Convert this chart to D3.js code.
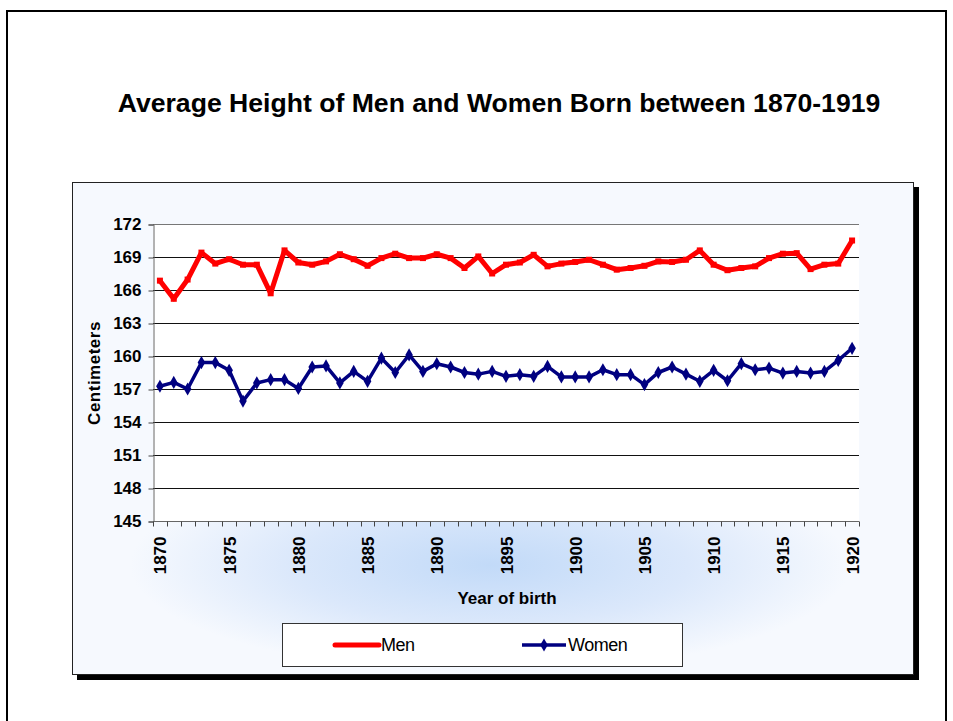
<!DOCTYPE html>
<html>
<head>
<meta charset="utf-8">
<script src="https://cdn.jsdelivr.net/npm/d3@7"></script>
<style>
  body { margin: 0; background: #fff; }
  svg { display: block; font-family: "Liberation Sans", Arial, sans-serif; }
</style>
</head>
<body>
<svg id="drawing_region"></svg>
<script>
var years = [1870, 1871, 1872, 1873, 1874, 1875, 1876, 1877, 1878, 1879,
             1880, 1881, 1882, 1883, 1884, 1885, 1886, 1887, 1888, 1889,
             1890, 1891, 1892, 1893, 1894, 1895, 1896, 1897, 1898, 1899,
             1900, 1901, 1902, 1903, 1904, 1905, 1906, 1907, 1908, 1909,
             1910, 1911, 1912, 1913, 1914, 1915, 1916, 1917, 1918, 1919, 1920];
var men = [166.85, 165.2, 166.95, 169.4, 168.4, 168.8, 168.3, 168.3, 165.7, 169.6,
           168.5, 168.3, 168.6, 169.25, 168.8, 168.2, 168.9, 169.3, 168.9, 168.9,
           169.25, 168.9, 168.0, 169.05, 167.5, 168.3, 168.5, 169.2, 168.15, 168.4,
           168.55, 168.75, 168.3, 167.85, 168.0, 168.2, 168.6, 168.55, 168.75, 169.6,
           168.3, 167.8, 168.0, 168.15, 168.9, 169.3, 169.35, 167.9, 168.3, 168.4, 170.5];
var women = [157.25, 157.6, 157.0, 159.4, 159.4, 158.7, 155.9, 157.55, 157.85, 157.85,
             157.05, 159.0, 159.1, 157.55, 158.6, 157.7, 159.8, 158.5, 160.1, 158.6,
             159.3, 159.0, 158.5, 158.35, 158.6, 158.15, 158.3, 158.15, 159.05, 158.1,
             158.1, 158.1, 158.75, 158.3, 158.3, 157.4, 158.5, 159.0, 158.35, 157.7,
             158.7, 157.75, 159.3, 158.75, 158.9, 158.45, 158.6, 158.45, 158.6, 159.6, 160.7];
var yTicks = [145, 148, 151, 154, 157, 160, 163, 166, 169, 172];
var xLabels = [1870, 1875, 1880, 1885, 1890, 1895, 1900, 1905, 1910, 1915, 1920];
var seriesNames = ['Men', 'Women'];

var width = 953, height = 721;
var plot = { left: 153, right: 859, top: 224, bottom: 521 };

var svg = d3.select('#drawing_region')
    .attr('width', width)
    .attr('height', height);

// page border
svg.append('path')
    .attr('d', `M7,${height + 5}V11H946V${height + 5}`)
    .attr('fill', 'none')
    .attr('stroke', '#000')
    .attr('stroke-width', 2);

svg.append('text')
    .attr('x', 499)
    .attr('y', 112)
    .attr('text-anchor', 'middle')
    .style('font-size', '26.6px')
    .style('font-weight', 'bold')
    .text('Average Height of Men and Women Born between 1870-1919');

// chart area with shadow and blue glow
var defs = svg.append('defs');
var grad = defs.append('radialGradient')
    .attr('id', 'glow')
    .attr('gradientUnits', 'userSpaceOnUse')
    .attr('cx', 490).attr('cy', 565).attr('r', 360)
    .attr('gradientTransform', 'translate(490,565) scale(1,0.3) translate(-490,-565)');
grad.append('stop').attr('offset', '0%').attr('stop-color', '#c2daf8');
grad.append('stop').attr('offset', '55%').attr('stop-color', '#dbe8fb');
grad.append('stop').attr('offset', '100%').attr('stop-color', '#f6f9fe');

svg.append('rect')
    .attr('x', 77).attr('y', 187)
    .attr('width', 842).attr('height', 493)
    .attr('fill', '#000');
svg.append('rect')
    .attr('x', 72.5).attr('y', 182.5)
    .attr('width', 841).attr('height', 492)
    .attr('fill', '#f6f9fe');
svg.append('rect')
    .attr('x', 72.5).attr('y', 182.5)
    .attr('width', 841).attr('height', 492)
    .attr('fill', 'url(#glow)')
    .attr('stroke', '#222')
    .attr('stroke-width', 1);

var x = d3.scaleBand()
    .domain(years)
    .range([plot.left, plot.right]);
var y = d3.scaleLinear()
    .domain([145, 172])
    .range([plot.bottom, plot.top]);

svg.append('rect')
    .attr('x', plot.left).attr('y', plot.top)
    .attr('width', plot.right - plot.left)
    .attr('height', plot.bottom - plot.top)
    .attr('fill', '#fff');

// gridlines
svg.append('g')
    .selectAll('line')
    .data(yTicks)
    .join('line')
    .attr('x1', plot.left).attr('x2', plot.right)
    .attr('y1', d => Math.round(y(d)) + 0.5)
    .attr('y2', d => Math.round(y(d)) + 0.5)
    .attr('stroke', d => d === 172 ? '#777' : '#111')
    .attr('stroke-width', 1);

// y axis
var yAxis = svg.append('g')
    .attr('transform', `translate(${plot.left + 0.5},0.5)`)
    .call(d3.axisLeft(y).tickValues(yTicks).tickSize(5).tickPadding(7));
yAxis.select('.domain').attr('stroke', '#666');
yAxis.selectAll('.tick line').attr('stroke', '#444');
yAxis.selectAll('text')
    .style('font-size', '17px')
    .style('font-weight', 'bold')
    .style('font-family', '"Liberation Sans", Arial, sans-serif')
    .attr('fill', '#000');

// x axis: ticks at category boundaries, labels every 5 years
var xg = svg.append('g')
    .attr('transform', `translate(0,${plot.bottom + 0.5})`);
xg.append('line')
    .attr('x1', plot.left).attr('x2', plot.right)
    .attr('stroke', '#666');
xg.selectAll('.tk')
    .data(years.concat([null]))
    .join('line')
    .attr('class', 'tk')
    .attr('x1', (d, i) => Math.round(plot.left + i * x.step()) + 0.5)
    .attr('x2', (d, i) => Math.round(plot.left + i * x.step()) + 0.5)
    .attr('y1', 0).attr('y2', 5)
    .attr('stroke', '#444');
xg.selectAll('.lbl')
    .data(xLabels)
    .join('text')
    .attr('class', 'lbl')
    .attr('transform', d => `translate(${x(d) + x.bandwidth() / 2 + 6.5},15) rotate(-90)`)
    .attr('text-anchor', 'end')
    .style('font-size', '17px')
    .style('font-weight', 'bold')
    .text(d => d);

svg.append('text')
    .attr('x', 507)
    .attr('y', 604)
    .attr('text-anchor', 'middle')
    .style('font-size', '17px')
    .style('font-weight', 'bold')
    .text('Year of birth');

svg.append('text')
    .attr('transform', 'translate(100,373) rotate(-90)')
    .attr('text-anchor', 'middle')
    .style('font-size', '17px')
    .style('font-weight', 'bold')
    .style('letter-spacing', '0.5px')
    .text('Centimeters');

// series
var line = d3.line()
    .x((d, i) => x(years[i]) + x.bandwidth() / 2)
    .y(d => y(d));
var diamond = d3.symbol().type(d3.symbolDiamond).size(50);

svg.append('path')
    .datum(men)
    .attr('d', line)
    .attr('fill', 'none')
    .attr('stroke', '#ff0000')
    .attr('stroke-width', 5)
    .attr('stroke-linejoin', 'round');
svg.append('g')
    .selectAll('rect')
    .data(men)
    .join('rect')
    .attr('x', (d, i) => x(years[i]) + x.bandwidth() / 2 - 3)
    .attr('y', d => y(d) - 3)
    .attr('width', 6).attr('height', 6)
    .attr('fill', '#ff0000');

svg.append('path')
    .datum(women)
    .attr('d', line)
    .attr('fill', 'none')
    .attr('stroke', '#000080')
    .attr('stroke-width', 3.5)
    .attr('stroke-linejoin', 'round');
svg.append('g')
    .selectAll('path')
    .data(women)
    .join('path')
    .attr('transform', (d, i) => `translate(${x(years[i]) + x.bandwidth() / 2},${y(d)})`)
    .attr('d', diamond)
    .attr('fill', '#000080');

// legend
var legend = svg.append('g');
legend.append('rect')
    .attr('x', 282.5).attr('y', 623.5)
    .attr('width', 400).attr('height', 43)
    .attr('fill', '#fff')
    .attr('stroke', '#333');
var legendX = [335, 522];
var legendColor = ['#ff0000', '#000080'];
legend.selectAll('.ll')
    .data(seriesNames)
    .join('line')
    .attr('class', 'll')
    .attr('x1', (d, i) => legendX[i]).attr('x2', (d, i) => legendX[i] + 44)
    .attr('y1', 645).attr('y2', 645)
    .attr('stroke', (d, i) => legendColor[i])
    .attr('stroke-width', (d, i) => i === 0 ? 5 : 3.5)
    .attr('stroke-linecap', (d, i) => i === 0 ? 'round' : 'butt');
legend.append('path')
    .attr('transform', `translate(${legendX[1] + 22},645)`)
    .attr('d', diamond)
    .attr('fill', '#000080');
legend.selectAll('.lt')
    .data(seriesNames)
    .join('text')
    .attr('class', 'lt')
    .attr('x', (d, i) => legendX[i] + 46)
    .attr('y', 651)
    .style('font-size', '18px')
    .style('letter-spacing', '-0.5px')
    .text(d => d);
</script>
</body>
</html>
